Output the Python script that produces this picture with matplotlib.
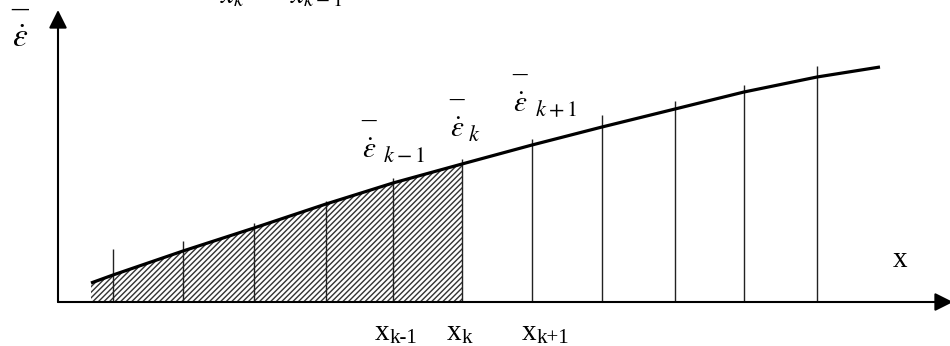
import matplotlib.pyplot as plt

plt.rcParams['mathtext.fontset'] = 'stix'
plt.rcParams['font.family'] = ['Liberation Serif', 'DejaVu Serif']
plt.rcParams['hatch.linewidth'] = 1.0

# Curve points (origin at the axes crossing)
curve_x = [33, 55, 125, 196, 268, 335, 404, 474, 544, 617, 686, 759, 822]
curve_y = [19, 27, 51, 74, 98, 119, 138, 157, 175, 193, 210, 225, 235]

# Vertical grid lines: positions and how far up they go
grid_x = [55, 125, 196, 268, 335, 404, 474, 544, 617, 686, 759]
grid_top = [53, 61, 79, 101, 124, 143, 163, 187, 201, 217, 236]

# Hatched area ends at x_k (index of 404 in curve_x)
n_hatch = 7

# Curve labels: subscript, left edge, baseline, subscript offset
eps_subs = ['k-1', 'k', 'k+1']
eps_x = [304, 392, 455]
eps_y = [144, 165, 190]
eps_dx = [21, 18, 22]

# Labels under the x axis
tick_subs = ['k-1', 'k', 'k+1']
tick_x = [317, 389, 464]

fig = plt.figure(figsize=(9.5, 3.46), dpi=100)
ax = fig.add_axes([0, 0, 1, 1])
ax.set_xlim(-58, 892)
ax.set_ylim(-44, 302)
ax.axis('off')

# hatched area under the curve up to x_k
ax.fill_between(curve_x[:n_hatch], 0, curve_y[:n_hatch], facecolor='white',
                edgecolor='#333333', hatch='//////', linewidth=0)

# vertical lines
ax.vlines(grid_x, 0, grid_top, color='#222222', linewidth=1.0)

# the curve
ax.plot(curve_x, curve_y, color='black', linewidth=2.3, solid_capstyle='butt')

# axes with arrows
arrow = dict(arrowstyle='-|>,head_length=1.1,head_width=0.55', color='black',
             lw=1.5, shrinkA=0, shrinkB=0, mutation_scale=10)
ax.annotate('', xy=(0, 292), xytext=(0, 0), arrowprops=arrow, annotation_clip=False)
ax.annotate('', xy=(895, 0), xytext=(0, 0), arrowprops=arrow, annotation_clip=False)


def eps_bar(x, y, size, bar_up):
    # epsilon with dot, and a bar set well above it
    ax.text(x, y, r'$\dot{\varepsilon}$', fontsize=size, ha='left', va='baseline')
    ax.text(x - 1, y + bar_up, '\u00af', fontsize=size, ha='left', va='baseline')


# y label
eps_bar(-46, 255, 24, 13)

# curve labels
for sub, lx, ly, dx in zip(eps_subs, eps_x, eps_y, eps_dx):
    eps_bar(lx, ly, 21, 15)
    ax.text(lx + dx, ly - 4, '$' + sub + '$', fontsize=16, ha='left', va='baseline')

# formula cut off at the top edge
ax.text(162, 299, r'$x_k$', fontsize=21, ha='left', va='baseline')
ax.text(232, 299, r'$x_{k-1}$', fontsize=21, ha='left', va='baseline')

# x label
ax.text(835, 35, 'x', fontsize=21, ha='left', va='baseline')

# tick labels under the axis
for lx, sub in zip(tick_x, tick_subs):
    ax.text(lx, -38, 'x', fontsize=21, ha='left', va='baseline')
    ax.text(lx + 15, -41, sub, fontsize=15, ha='left', va='baseline')

fig.savefig('out.png', dpi=100)
